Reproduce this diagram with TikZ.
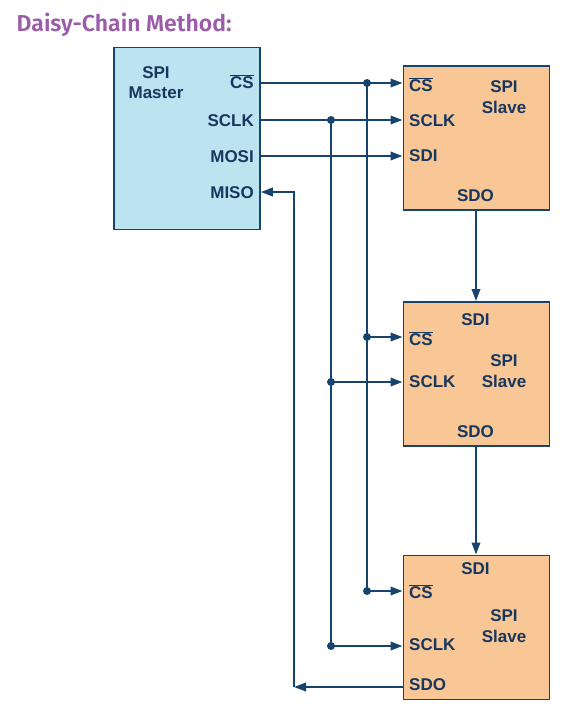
\documentclass[tikz,border=0pt]{standalone}
\usepackage{fontspec}
\setmainfont{Liberation Sans}
\newfontfamily\titlefont{Fira Sans}[BoldFont={Fira Sans SemiBold}]
\usetikzlibrary{arrows.meta}
\definecolor{linec}{RGB}{22,68,110}
\definecolor{textc}{RGB}{22,55,95}
\definecolor{masterfill}{RGB}{188,228,240}
\definecolor{slavefill}{RGB}{249,198,150}
\definecolor{titlec}{RGB}{155,92,170}
\newcommand{\csbar}{$\overline{\hbox{CS}}$}
\begin{document}
\begin{tikzpicture}[x=1pt,y=-1pt,
  wire/.style={draw=linec, line width=2pt},
  sig/.style={wire, -{Triangle[length=12pt,width=8.5pt]}},
  jdot/.style={circle, fill=linec, inner sep=0pt, minimum size=8pt},
  lbl/.style={font=\fontsize{17}{19}\selectfont\bfseries, text=textc, inner sep=0pt},
  masterbox/.style={draw=linec, line width=1.8pt, fill=masterfill, anchor=north west, minimum width=146pt, minimum height=182pt, inner sep=0pt},
  slavebox/.style={draw=linec, line width=1.8pt, fill=slavefill, anchor=north west, minimum width=146pt, minimum height=144pt, inner sep=0pt}]
\useasboundingbox (0,0) rectangle (582,710);

% title
\node[anchor=base west, inner sep=0pt, text=titlec, font=\titlefont\fontsize{23}{26}\selectfont\bfseries] (title) at (16.5,31) {Daisy-Chain Method:};

% boxes
\node[masterbox] (M) at (113,46.5) {};
\node[slavebox] (S1) at (402.5,65) {};
\node[slavebox] (S2) at (402.5,301) {};
\node[slavebox] (S3) at (402.5,554.5) {};

% master labels
\node[lbl, anchor=base] (mspi) at (156,78) {SPI};
\node[lbl, anchor=base] (mmaster) at (156,98.3) {Master};
\node[lbl, anchor=base east] (mcsl) at (254,88) {\csbar};
\node[lbl, anchor=base east] (msclkl) at (254,126.5) {SCLK};
\node[lbl, anchor=base east] (mmosil) at (254,162) {MOSI};
\node[lbl, anchor=base east] (mmisol) at (254,198.3) {MISO};

% slave 1 labels
\node[lbl, anchor=base west] (s1cs) at (409,91.5) {\csbar};
\node[lbl, anchor=base west] (s1sclk) at (409,126.5) {SCLK};
\node[lbl, anchor=base west] (s1sdi) at (409,161.7) {SDI};
\node[lbl, anchor=base] (s1spi) at (504,92.3) {SPI};
\node[lbl, anchor=base] (s1slave) at (504,113.3) {Slave};
\node[lbl, anchor=base] (s1sdo) at (475.5,201.7) {SDO};

% slave 2 labels
\node[lbl, anchor=base] (s2sdi) at (475.5,325) {SDI};
\node[lbl, anchor=base west] (s2cs) at (409,345) {\csbar};
\node[lbl, anchor=base west] (s2sclk) at (409,387.7) {SCLK};
\node[lbl, anchor=base] (s2spi) at (504,366) {SPI};
\node[lbl, anchor=base] (s2slave) at (504,387.7) {Slave};
\node[lbl, anchor=base] (s2sdo) at (475.5,437.3) {SDO};

% slave 3 labels
\node[lbl, anchor=base] (s3sdi) at (475.5,574) {SDI};
\node[lbl, anchor=base west] (s3cs) at (409,598.3) {\csbar};
\node[lbl, anchor=base west] (s3sclk) at (409,650.7) {SCLK};
\node[lbl, anchor=base] (s3spi) at (504,621.7) {SPI};
\node[lbl, anchor=base] (s3slave) at (504,642.7) {Slave};
\node[lbl, anchor=base west] (s3sdo) at (409,690.7) {SDO};

% pin coordinates
\coordinate (Mcs) at (M.east |- 0,83);
\coordinate (Msclk) at (M.east |- 0,120);
\coordinate (Mmosi) at (M.east |- 0,156);
\coordinate (Mmiso) at (M.east |- 0,192);
\coordinate (S1cs) at (S1.west |- 0,83);
\coordinate (S1sclk) at (S1.west |- 0,120);
\coordinate (S1sdi) at (S1.west |- 0,156);
\coordinate (S2cs) at (S2.west |- 0,337);
\coordinate (S2sclk) at (S2.west |- 0,382);
\coordinate (S3cs) at (S3.west |- 0,591);
\coordinate (S3sclk) at (S3.west |- 0,646);
\coordinate (S3sdo) at (S3.west |- 0,687);
\coordinate (S1out) at (476,0 |- S1.south);
\coordinate (S2in) at (476,0 |- S2.north);
\coordinate (S2out) at (476,0 |- S2.south);
\coordinate (S3in) at (476,0 |- S3.north);
% bus junctions
\coordinate (Jcs1) at (367,83);
\coordinate (Jcs2) at (367,337);
\coordinate (Jcs3) at (367,591);
\coordinate (Jck1) at (331,120);
\coordinate (Jck2) at (331,382);
\coordinate (Jck3) at (331,646);
\coordinate (Rb) at (294,687);
\coordinate (Rt) at (294,192);

% wires
\draw[sig] (Mcs) -- (S1cs);
\draw[sig] (Msclk) -- (S1sclk);
\draw[sig] (Mmosi) -- (S1sdi);
\draw[wire] (Jcs1) -- (Jcs3);
\draw[wire] (Jck1) -- (Jck3);
\draw[sig] (Jcs2) -- (S2cs);
\draw[sig] (Jcs3) -- (S3cs);
\draw[sig] (Jck2) -- (S2sclk);
\draw[sig] (Jck3) -- (S3sclk);
\draw[sig] (S1out) -- (S2in);
\draw[sig] (S2out) -- (S3in);
\draw[sig] (S3sdo) -- (Rb);
\draw[sig] (Rb) -- (Rt) -- (Mmiso);

% junction dots
\foreach \j in {Jcs1,Jcs2,Jcs3,Jck1,Jck2,Jck3}
  \node[jdot] at (\j) {};
\end{tikzpicture}
\end{document}
